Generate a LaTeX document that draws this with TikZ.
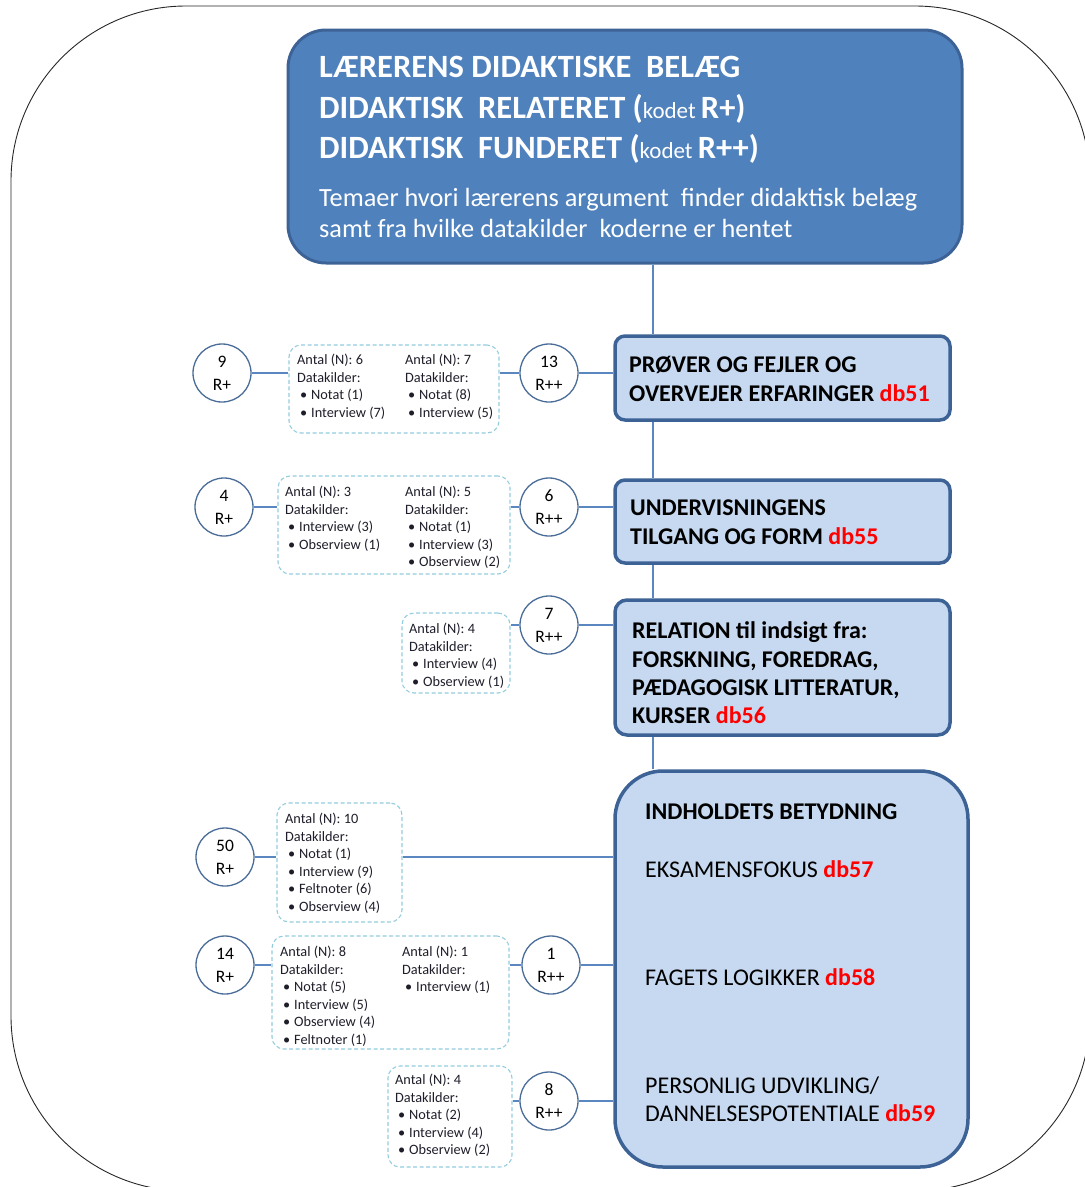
\documentclass[tikz,border=0pt]{standalone}
\usepackage{fontspec}
\setmainfont{Carlito}
\definecolor{headfill}{HTML}{4F81BD}
\definecolor{boxline}{HTML}{3D6396}
\definecolor{lightfill}{HTML}{C6D9F0}
\definecolor{linkblue}{HTML}{5A87C0}
\definecolor{ringline}{HTML}{4A6C98}
\definecolor{dashblue}{HTML}{93CDDD}
\definecolor{dbred}{HTML}{FF0000}
\definecolor{srcink}{HTML}{1E1E2A}
\newcommand\db[1]{\textcolor{dbred}{\bfseries #1}}
\newcommand\kilde[1]{\hspace*{3pt}\makebox[11pt][l]{•}#1}
\begin{document}
\begin{tikzpicture}[x=1pt,y=-1pt,
  frame/.style={draw=black!85, line width=0.9pt},
  headbox/.style={draw=boxline, fill=headfill, line width=3pt, rounded corners=38pt},
  themebox/.style={draw=boxline, fill=lightfill, line width=3.5pt},
  ring/.style={circle, draw=ringline, fill=white, line width=1.3pt, minimum size=58pt, inner sep=0pt,
    align=center, font=\fontsize{17.5}{23}\selectfont},
  srcbox/.style={draw=dashblue, line width=1.1pt, dash pattern=on 4pt off 2.5pt, rounded corners=12pt},
  srctext/.style={anchor=north west, inner sep=0pt, align=left, text=srcink,
    font=\fontsize{14.3}{17.5}\selectfont},
  link/.style={draw=linkblue, line width=1.3pt},
  headtext/.style={anchor=base west, inner sep=0pt, text=white, font=\fontsize{32.5}{40}\selectfont\bfseries},
  subtext/.style={anchor=base west, inner sep=0pt, text=white, font=\fontsize{26.3}{32}\selectfont},
  boldline/.style={anchor=base west, inner sep=0pt, font=\fontsize{24}{29}\selectfont\bfseries},
  plainline/.style={anchor=base west, inner sep=0pt, font=\fontsize{24}{29}\selectfont},
]
\useasboundingbox (0,0) rectangle (1085,1187);

% outer frame, running past the page edge on the right and bottom
\begin{scope}
  \clip (0,0) rectangle (1085,1187);
  \draw[frame, rounded corners=175pt] (11,6) rectangle (1090,1191);
\end{scope}

% main boxes
\node[headbox, minimum width=674pt, minimum height=233pt] (top) at (625,146.5) {};
\node[themebox, rounded corners=10pt, minimum width=335pt, minimum height=84pt] (b1) at (782.5,378) {};
\node[themebox, rounded corners=10pt, minimum width=335pt, minimum height=83pt] (b2) at (782.5,521.5) {};
\node[themebox, rounded corners=12pt, minimum width=335pt, minimum height=135pt] (b3) at (782.5,667.5) {};
\node[themebox, rounded corners=48pt, minimum width=353pt, minimum height=396pt] (b4) at (791.5,969) {};

% spine joining the boxes
\coordinate (spine) at (653,0);
\draw[link] (top.south -| spine) -- (b1.north -| spine);
\draw[link] (b1.south -| spine) -- (b2.north -| spine);
\draw[link] (b2.south -| spine) -- (b3.north -| spine);
\draw[link] (b3.south -| spine) -- (b4.north -| spine);

% heading text
\node[headtext] (h1) at (319,77) {LÆRERENS DIDAKTISKE\ \ BELÆG};
\node[headtext] (h2) at (319,118) {DIDAKTISK\ \ RELATERET (\mdseries\fontsize{23}{28}\selectfont kodet \bfseries\fontsize{32.5}{40}\selectfont R+)};
\node[headtext] (h3) at (319,158) {DIDAKTISK\ \ FUNDERET (\mdseries\fontsize{23}{28}\selectfont kodet \bfseries\fontsize{32.5}{40}\selectfont R++)};
\node[subtext] (s1) at (319,206) {Temaer hvori lærerens argument\ \ finder didaktisk belæg};
\node[subtext] (s2) at (319,237) {samt fra hvilke datakilder\ \ koderne er hentet};

% theme box text
\node[boldline] (t11) at (629,372) {PRØVER OG FEJLER OG};
\node[boldline] (t12) at (629,401) {OVERVEJER ERFARINGER \db{db51}};
\node[boldline] (t21) at (630,515) {UNDERVISNINGENS};
\node[boldline] (t22) at (630,544) {TILGANG OG FORM \db{db55}};
\node[boldline] (t31) at (632,638) {RELATION til indsigt fra:};
\node[boldline] (t32) at (632,667) {FORSKNING, FOREDRAG,};
\node[boldline] (t33) at (632,695) {PÆDAGOGISK LITTERATUR,};
\node[boldline] (t34) at (632,723) {KURSER \db{db56}};
\node[boldline] (t41) at (645,819) {INDHOLDETS BETYDNING};
\node[plainline] (t42) at (645,877) {EKSAMENSFOKUS \db{db57}};
\node[plainline] (t43) at (645,985) {FAGETS LOGIKKER \db{db58}};
\node[plainline] (t44) at (645,1093) {PERSONLIG UDVIKLING/};
\node[plainline] (t45) at (645,1121) {DANNELSESPOTENTIALE \db{db59}};

% count circles
\node[ring] (c1) at (222,373) {9\\R+};
\node[ring] (c2) at (549,373) {13\\R++};
\node[ring] (c3) at (224,507) {4\\R+};
\node[ring] (c4) at (549,507) {6\\R++};
\node[ring] (c5) at (549,625) {7\\R++};
\node[ring] (c6) at (225,857) {50\\R+};
\node[ring] (c7) at (225,965) {14\\R+};
\node[ring] (c8) at (551,965) {1\\R++};
\node[ring] (c9) at (549,1101) {8\\R++};

% data source boxes
\node[srcbox, minimum width=210pt, minimum height=88pt] (d1) at (394,389) {};
\node[srcbox, minimum width=232pt, minimum height=98pt] (d2) at (394,525) {};
\node[srcbox, minimum width=108pt, minimum height=80pt] (d3) at (456,653) {};
\node[srcbox, minimum width=125pt, minimum height=119pt] (d4) at (339.5,862.5) {};
\node[srcbox, minimum width=237pt, minimum height=113pt] (d5) at (390.5,992.5) {};
\node[srcbox, minimum width=124pt, minimum height=101pt] (d6) at (450,1116.5) {};

\node[srctext] (d1a) at (297,354.3) {Antal (N): 6\\Datakilder:\\\kilde{Notat (1)}\\\kilde{Interview (7)}};
\node[srctext] (d1b) at (405,354.3) {Antal (N): 7\\Datakilder:\\\kilde{Notat (8)}\\\kilde{Interview (5)}};
\node[srctext] (d2a) at (285,486.3) {Antal (N): 3\\Datakilder:\\\kilde{Interview (3)}\\\kilde{Obserview (1)}};
\node[srctext] (d2b) at (405,486.3) {Antal (N): 5\\Datakilder:\\\kilde{Notat (1)}\\\kilde{Interview (3)}\\\kilde{Obserview (2)}};
\node[srctext] (d3a) at (409,623.3) {Antal (N): 4\\Datakilder:\\\kilde{Interview (4)}\\\kilde{Obserview (1)}};
\node[srctext] (d4a) at (285,813.3) {Antal (N): 10\\Datakilder:\\\kilde{Notat (1)}\\\kilde{Interview (9)}\\\kilde{Feltnoter (6)}\\\kilde{Obserview (4)}};
\node[srctext] (d5a) at (280,946.3) {Antal (N): 8\\Datakilder:\\\kilde{Notat (5)}\\\kilde{Interview (5)}\\\kilde{Obserview (4)}\\\kilde{Feltnoter (1)}};
\node[srctext] (d5b) at (402,946.3) {Antal (N): 1\\Datakilder:\\\kilde{Interview (1)}};
\node[srctext] (d6a) at (395,1074.3) {Antal (N): 4\\Datakilder:\\\kilde{Notat (2)}\\\kilde{Interview (4)}\\\kilde{Obserview (2)}};

% connectors
\draw[link] (c1.east) -- (c1.east -| d1.west);
\draw[link] (c2.west -| d1.east) -- (c2.west);
\draw[link] (c2.east) -- (c2.east -| b1.west);
\draw[link] (c3.east) -- (c3.east -| d2.west);
\draw[link] (c4.west -| d2.east) -- (c4.west);
\draw[link] (c4.east) -- (c4.east -| b2.west);
\draw[link] (c5.west -| d3.east) -- (c5.west);
\draw[link] (c5.east) -- (c5.east -| b3.west);
\draw[link] (c6.east) -- (c6.east -| d4.west);
\draw[link] (c6.east -| d4.east) -- (c6.east -| b4.west);
\draw[link] (c7.east) -- (c7.east -| d5.west);
\draw[link] (c8.west -| d5.east) -- (c8.west);
\draw[link] (c8.east) -- (c8.east -| b4.west);
\draw[link] (c9.west -| d6.east) -- (c9.west);
\draw[link] (c9.east) -- (c9.east -| b4.west);
\end{tikzpicture}
\end{document}
